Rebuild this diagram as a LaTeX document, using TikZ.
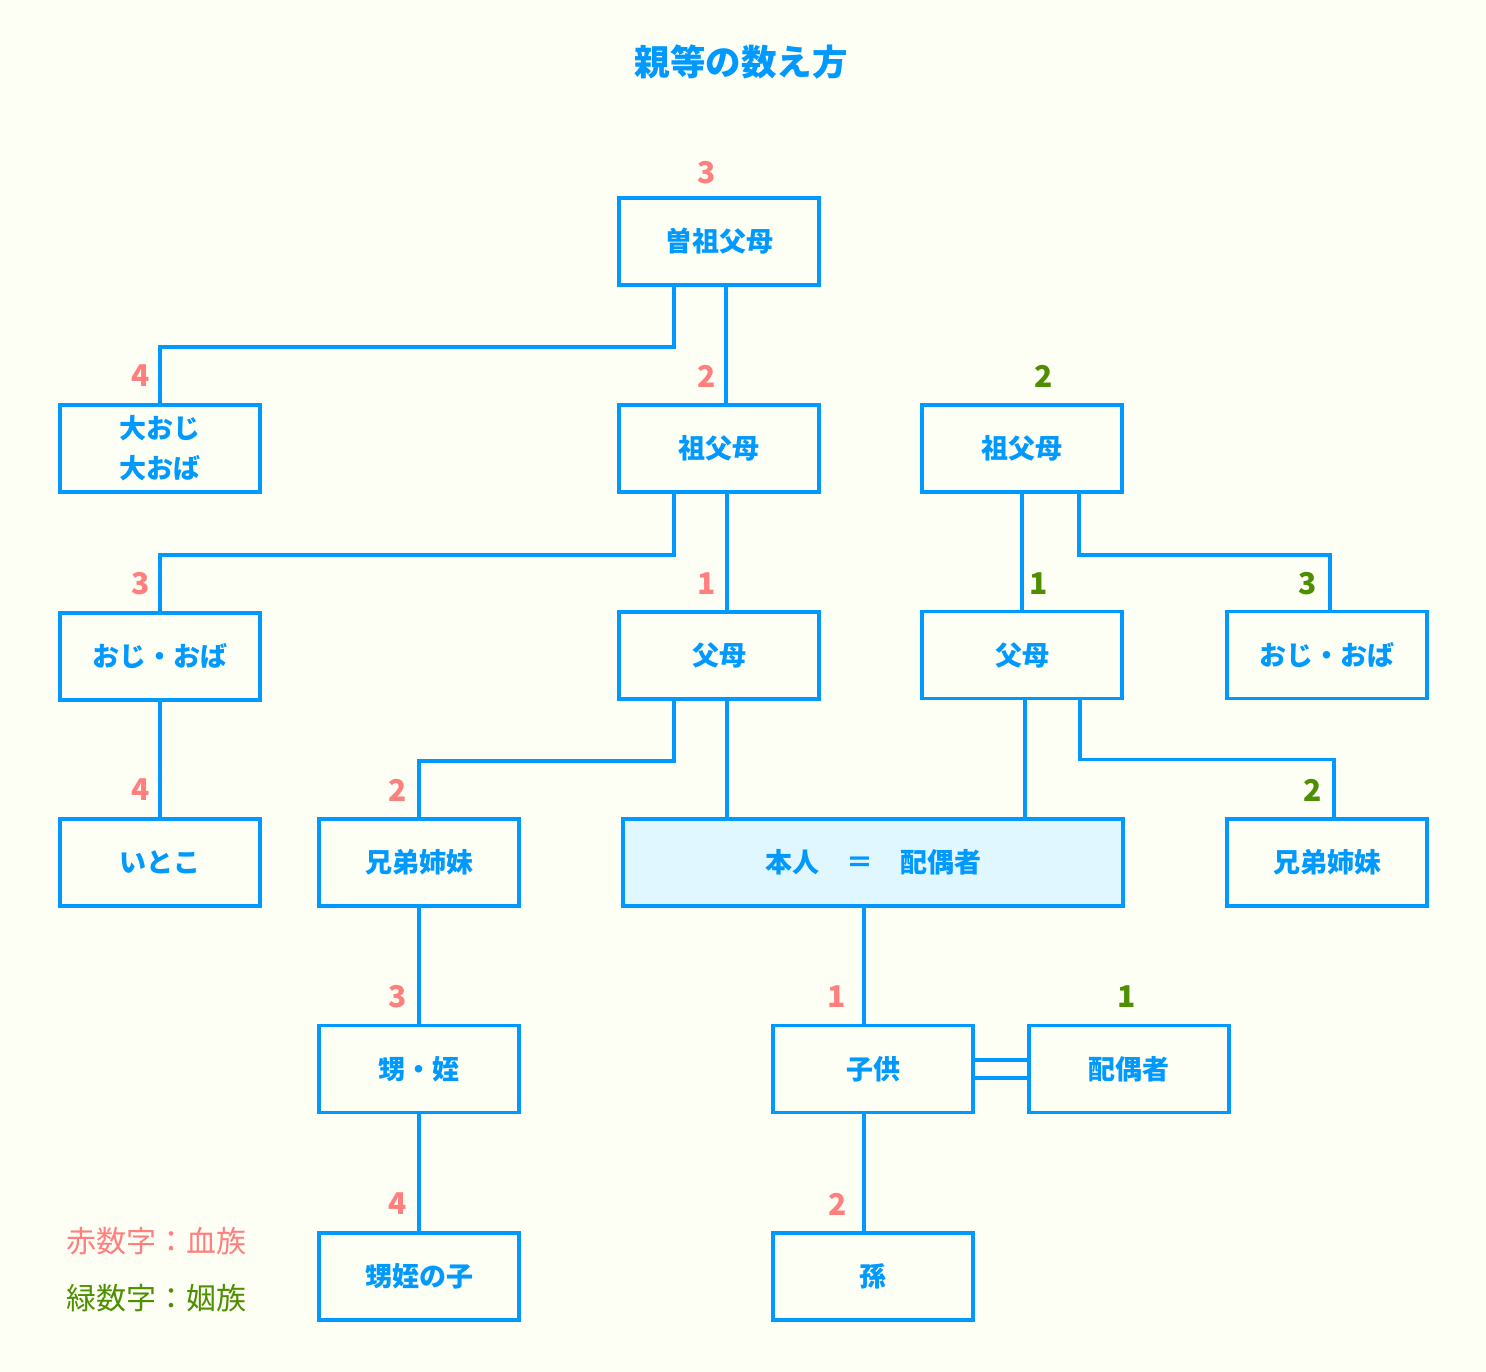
\documentclass[tikz,border=0pt]{standalone}
\usepackage{fontspec}
\setmainfont{Noto Sans CJK JP}
\usetikzlibrary{calc}
\definecolor{bgc}{HTML}{FDFEF4}
\definecolor{kblue}{HTML}{0099FF}
\definecolor{kred}{HTML}{FF7F7F}
\definecolor{kgreen}{HTML}{4D8F00}
\definecolor{kfill}{HTML}{E0F7FF}
\tikzset{
  kin/.style={draw=kblue, line width=3.5pt, rectangle, minimum width=200pt, minimum height=87pt, inner sep=0pt,
    text=kblue, font=\fontsize{27}{40}\selectfont\bfseries, align=center},
  link/.style={draw=kblue, line width=3.5pt},
  rnum/.style={text=kred, font=\fontsize{30}{30}\selectfont\bfseries, inner sep=0pt},
  gnum/.style={text=kgreen, font=\fontsize{30}{30}\selectfont\bfseries, inner sep=0pt},
  legend/.style={font=\fontsize{30}{32}\selectfont, anchor=west, inner sep=0pt}
}
\begin{document}
\begin{tikzpicture}[x=1pt,y=-1pt]
\fill[bgc] (0,0) rectangle (1486,1372);
\useasboundingbox (0,0) rectangle (1486,1372);

\node[text=kblue, font=\fontsize{35.5}{40}\selectfont\bfseries] (title) at (741,62) {親等の数え方};

% boxes
\node[kin] (g3) at (719,241.5) {曽祖父母};
\node[kin] (ooji) at (160,448.5) {大おじ\\大おば};
\node[kin] (g2l) at (719,448.5) {祖父母};
\node[kin] (g2r) at (1022,448.5) {祖父母};
\node[kin] (ojil) at (160,656.5) {おじ・おば};
\node[kin] (p1l) at (719,655.5) {父母};
\node[kin] (p1r) at (1022,655) {父母};
\node[kin] (ojir) at (1327,655) {おじ・おば};
\node[kin] (itoko) at (160,862.5) {いとこ};
\node[kin] (sibl) at (419,862.5) {兄弟姉妹};
\node[kin, fill=kfill, minimum width=500pt] (self) at (873,862.5) {本人　＝　配偶者};
\node[kin] (sibr) at (1327,862.5) {兄弟姉妹};
\node[kin] (oi) at (419,1069) {甥・姪};
\node[kin] (child) at (873,1069) {子供};
\node[kin] (cspouse) at (1129,1069) {配偶者};
\node[kin] (oiko) at (419,1276.5) {甥姪の子};
\node[kin] (mago) at (873,1276.5) {孫};

% connectors
\draw[link] ([xshift=-45pt]g3.south) -- ++(0,60) -| (ooji.north);
\draw[link] ([xshift=7pt]g3.south) -- ([xshift=7pt]g2l.north);
\draw[link] ([xshift=-45pt]g2l.south) -- ++(0,61) -| (ojil.north);
\draw[link] ([xshift=8pt]g2l.south) -- ([xshift=8pt]p1l.north);
\draw[link] (g2r.south) -- (p1r.north);
\draw[link] ([xshift=57pt]g2r.south) -- ++(0,61) -| ([xshift=3pt]ojir.north);
\draw[link] (ojil.south) -- (itoko.north);
\draw[link] ([xshift=-45pt]p1l.south) -- ++(0,60) -| (sibl.north);
\coordinate (pl) at ([xshift=8pt]p1l.south);
\draw[link] (pl) -- (pl |- self.north);
\coordinate (pr) at ([xshift=3pt]p1r.south);
\draw[link] (pr) -- (pr |- self.north);
\draw[link] ([xshift=58pt]p1r.south) -- ++(0,59) -| ([xshift=7pt]sibr.north);
\draw[link] (sibl.south) -- (oi.north);
\draw[link] (oi.south) -- (oiko.north);
\draw[link] ([xshift=-9pt]self.south) -- ([xshift=-9pt]child.north);
\draw[link] ([xshift=-9pt]child.south) -- ([xshift=-9pt]mago.north);
\draw[link] ([yshift=9pt]child.east) -- ([yshift=9pt]cspouse.west);
\draw[link] ([yshift=-9pt]child.east) -- ([yshift=-9pt]cspouse.west);

% degree numbers
\node[rnum] (n1) at (707,173) {3};
\node[rnum] (n2) at (141,376) {4};
\node[rnum] (n3) at (707,376) {2};
\node[gnum] (n4) at (1044,376) {2};
\node[rnum] (n5) at (141,584) {3};
\node[rnum] (n6) at (707,584) {1};
\node[gnum] (n7) at (1039,584) {1};
\node[gnum] (n8) at (1308,584) {3};
\node[rnum] (n9) at (141,790) {4};
\node[rnum] (n10) at (398,790) {2};
\node[gnum] (n11) at (1313,790) {2};
\node[rnum] (n12) at (398,997) {3};
\node[rnum] (n13) at (837,997) {1};
\node[gnum] (n14) at (1127,997) {1};
\node[rnum] (n15) at (398,1204) {4};
\node[rnum] (n16) at (838,1204) {2};

% legend
\node[legend, text=kred] (lg1) at (66,1241) {赤数字：血族};
\node[legend, text=kgreen] (lg2) at (66,1298) {緑数字：姻族};
\end{tikzpicture}
\end{document}
